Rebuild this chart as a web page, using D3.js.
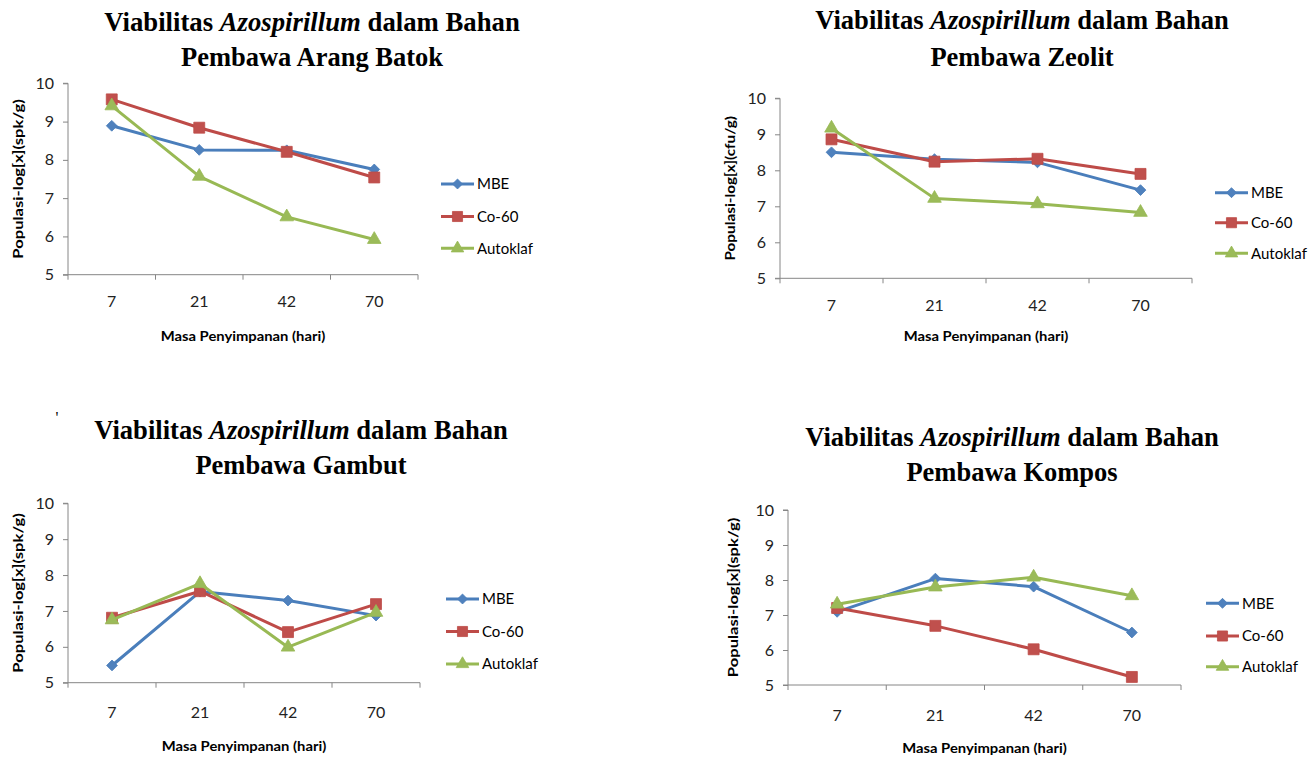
<!DOCTYPE html>
<html>
<head>
<meta charset="utf-8">
<script src="https://cdn.jsdelivr.net/npm/d3@7"></script>
<style>
  html, body { margin: 0; padding: 0; background: #ffffff; }
  svg { display: block; }
</style>
</head>
<body>
<svg id="chart" width="1314" height="758"></svg>
<script>
// ---------- data ----------
const days = ["7", "21", "42", "70"];
const seriesNames = ["MBE", "Co-60", "Autoklaf"];
const yTicks = [5, 6, 7, 8, 9, 10];

const arangMBE      = [8.89, 8.26, 8.25, 7.75];
const arangCo60     = [9.58, 8.84, 8.21, 7.54];
const arangAutoklaf = [9.41, 7.57, 6.51, 5.92];

const zeolitMBE      = [8.50, 8.31, 8.22, 7.45];
const zeolitCo60     = [8.86, 8.24, 8.32, 7.90];
const zeolitAutoklaf = [9.17, 7.22, 7.07, 6.83];

const gambutMBE      = [5.48, 7.54, 7.29, 6.87];
const gambutCo60     = [6.81, 7.55, 6.41, 7.19];
const gambutAutoklaf = [6.75, 7.76, 5.99, 6.96];

const komposMBE      = [7.09, 8.04, 7.81, 6.50];
const komposCo60     = [7.20, 6.69, 6.02, 5.23];
const komposAutoklaf = [7.31, 7.80, 8.08, 7.55];

const titleCarriers = ["Arang Batok", "Zeolit", "Gambut", "Kompos"];
const yAxisTitles = ["Populasi-log[x](spk/g)", "Populasi-log[x](cfu/g)", "Populasi-log[x](spk/g)", "Populasi-log[x](spk/g)"];
const xAxisTitle = "Masa Penyimpanan (hari)";

// ---------- styling ----------
const colors = ["#4A7EBB", "#BE4B48", "#98B954"];
const markerColors = ["#4F81BD", "#C0504D", "#9BBB59"];
const axisColor = "#868686";
const sansFont = "Lato, 'Open Sans', sans-serif";
const serifFont = "'Liberation Serif', 'Times New Roman', serif";

const panels = [
  { values: [arangMBE, arangCo60, arangAutoklaf],
    x0: 68, x1: 418, yTop: 83.3, yBot: 274.7, tickDy: 26.5, titleDy: 62, yTitleX: 18, yTitleLen: 160,
    tCx: 312, t1y: 31, t2y: 66, t1w: 416,
    legX: 441, legY: [184, 216.5, 248.3] },
  { values: [zeolitMBE, zeolitCo60, zeolitAutoklaf],
    x0: 780, x1: 1192, yTop: 98.3, yBot: 278.3, tickDy: 26.7, titleDy: 58.4, yTitleX: 730, yTitleLen: 145,
    tCx: 1022, t1y: 29, t2y: 66, t1w: 414,
    legX: 1215, legY: [192.7, 222.7, 253.3] },
  { values: [gambutMBE, gambutCo60, gambutAutoklaf],
    x0: 68, x1: 420, yTop: 503.3, yBot: 682.7, tickDy: 29.6, titleDy: 64, yTitleX: 18, yTitleLen: 160,
    tCx: 301, t1y: 439, t2y: 474, t1w: 414,
    legX: 446, legY: [599, 631.5, 664] },
  { values: [komposMBE, komposCo60, komposAutoklaf],
    x0: 788, x1: 1181, yTop: 510, yBot: 685, tickDy: 30.7, titleDy: 63.3, yTitleX: 733, yTitleLen: 160,
    tCx: 1012, t1y: 446, t2y: 481, t1w: 414,
    legX: 1206, legY: [603.3, 636, 666.7] }
];

const svg = d3.select("#chart");

// stretch a text element horizontally to a target width, anchored at its centre x
function fitWidth(textSel, cx, cy, target) {
  const w = textSel.node().getBBox().width;
  const s = target / w;
  textSel.attr("transform", `translate(${cx},${cy}) scale(${s},1)`);
}

// diamond = square rotated by 45 degrees (Excel-style), square, triangle
function symbolPath(i, size) {
  return d3.symbol().type([d3.symbolSquare, d3.symbolSquare, d3.symbolTriangle][i]).size(size)();
}
const markerSizes = [58, 120, 80];
const markerRot = [45, 0, 0];

panels.forEach((p, pi) => {
  const g = svg.append("g");

  const x = d3.scaleBand().domain(days).range([p.x0, p.x1]).paddingInner(0).paddingOuter(0);
  const y = d3.scaleLinear().domain([5, 10]).range([p.yBot, p.yTop]);

  // title (two lines, Times-like bold, italic genus)
  const t1 = g.append("text")
    .attr("font-family", serifFont).attr("font-weight", "bold").attr("font-size", 26.5)
    .attr("text-anchor", "middle").attr("fill", "#000");
  t1.append("tspan").text("Viabilitas ");
  t1.append("tspan").attr("font-style", "italic").text("Azospirillum");
  t1.append("tspan").text(" dalam Bahan");
  fitWidth(t1, p.tCx, p.t1y, p.t1w);

  g.append("text")
    .attr("font-family", serifFont).attr("font-weight", "bold").attr("font-size", 26.5)
    .attr("text-anchor", "middle").attr("fill", "#000")
    .attr("transform", `translate(${p.tCx},${p.t2y})`)
    .text("Pembawa " + titleCarriers[pi]);

  // y axis
  const yAxis = d3.axisLeft(y).tickValues(yTicks).tickSize(5).tickPadding(9).tickFormat(d3.format("d"));
  const ya = g.append("g").attr("transform", `translate(${p.x0},0)`).call(yAxis);
  ya.select(".domain").attr("stroke", axisColor).attr("d", `M-5,${p.yTop}H0V${p.yBot}H-5`);
  ya.selectAll(".tick line").attr("stroke", axisColor);
  ya.selectAll(".tick text").attr("font-family", sansFont).attr("font-size", 16).attr("fill", "#222");

  // x axis
  const xa = g.append("g").attr("transform", `translate(0,${p.yBot})`);
  xa.append("line").attr("x1", p.x0).attr("x2", p.x1).attr("y1", 0).attr("y2", 0).attr("stroke", axisColor);
  const bounds = days.map(d => x(d)).concat([p.x1]);
  xa.selectAll("line.xt").data(bounds).join("line").attr("class", "xt")
    .attr("x1", d => d).attr("x2", d => d).attr("y1", 0).attr("y2", 5).attr("stroke", axisColor);
  xa.selectAll("text.xl").data(days).join("text").attr("class", "xl")
    .attr("x", d => x(d) + x.bandwidth() / 2).attr("y", p.tickDy).attr("dy", "0.35em")
    .attr("text-anchor", "middle").attr("font-family", sansFont).attr("font-size", 16).attr("fill", "#222")
    .text(d => d);

  // axis titles
  const xt = g.append("text").attr("font-family", sansFont).attr("font-weight", "bold").attr("font-size", 13.5)
    .attr("text-anchor", "middle").attr("dy", "0.35em").attr("fill", "#000").text(xAxisTitle);
  fitWidth(xt, (p.x0 + p.x1) / 2, p.yBot + p.titleDy, 165);

  const yt = g.append("text").attr("font-family", sansFont).attr("font-weight", "bold").attr("font-size", 13.5)
    .attr("text-anchor", "middle").attr("dy", "0.35em").attr("fill", "#000").text(yAxisTitles[pi]);
  const yw = yt.node().getBBox().width;
  yt.attr("transform", `translate(${p.yTitleX},${(p.yTop + p.yBot) / 2}) rotate(-90) scale(${p.yTitleLen / yw},1)`);

  // series
  const line = d3.line().x((d, i) => x(days[i]) + x.bandwidth() / 2).y(d => y(d));
  p.values.forEach((vals, si) => {
    g.append("path").datum(vals).attr("d", line).attr("fill", "none")
      .attr("stroke", colors[si]).attr("stroke-width", 3).attr("stroke-linejoin", "round");
    g.selectAll(null).data(vals).join("path")
      .attr("d", symbolPath(si, markerSizes[si]))
      .attr("transform", (d, i) => `translate(${x(days[i]) + x.bandwidth() / 2},${y(d)}) rotate(${markerRot[si]})`)
      .attr("fill", markerColors[si]).attr("stroke", colors[si]).attr("stroke-width", 0.8);
  });

  // legend
  seriesNames.forEach((name, si) => {
    const ly = p.legY[si];
    g.append("line").attr("x1", p.legX).attr("x2", p.legX + 33).attr("y1", ly).attr("y2", ly)
      .attr("stroke", colors[si]).attr("stroke-width", 3);
    g.append("path").attr("d", symbolPath(si, markerSizes[si] * 0.85))
      .attr("transform", `translate(${p.legX + 16.5},${ly}) rotate(${markerRot[si]})`)
      .attr("fill", markerColors[si]).attr("stroke", colors[si]).attr("stroke-width", 0.8);
    g.append("text").attr("x", p.legX + 36).attr("y", ly).attr("dy", "0.36em")
      .attr("font-family", sansFont).attr("font-size", 15).attr("fill", "#000").text(name);
  });
});

// stray mark above the third panel
svg.append("text").attr("x", 57).attr("y", 423).attr("font-family", serifFont).attr("font-size", 16)
  .attr("text-anchor", "middle").attr("fill", "#000").text("'");
</script>
</body>
</html>
